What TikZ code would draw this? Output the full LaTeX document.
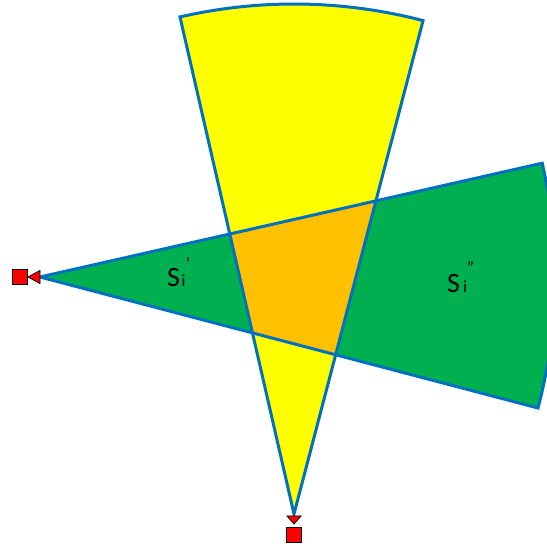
\documentclass[tikz,border=0pt]{standalone}
\usepackage{fontspec}
\setmainfont{Carlito}
\definecolor{edgeblue}{RGB}{0,112,192}
\definecolor{secyellow}{RGB}{255,255,0}
\definecolor{secgreen}{RGB}{0,176,80}
\definecolor{secorange}{RGB}{255,192,0}
\newcommand\lblS[2]{{\fontsize{28}{30}\selectfont S}\kern#2{\fontsize{17}{18}\selectfont i}#1}
\begin{document}
\begin{tikzpicture}[x=1pt,y=1pt,
  edge/.style={draw=edgeblue,line width=3pt},
  marker/.style={draw=black,line width=0.8pt,fill=red},
  lbl/.style={anchor=base west,inner sep=0pt}]
\useasboundingbox (0,0) rectangle (547,547);
\clip (0,0) rectangle (547,547);
\def\yellowpath{(294,33) -- ++(102.92:510) arc[start angle=102.92,end angle=75.34,radius=510] -- cycle}
\def\greenpath{(40,270) -- ++(12.77:515) arc[start angle=12.77,end angle=-14.74,radius=515] -- cycle}
\fill[secyellow] \yellowpath;
\fill[secgreen] \greenpath;
\begin{scope}
  \clip \yellowpath;
  \fill[secorange] \greenpath;
\end{scope}
\path[edge] \yellowpath;
\path[edge] \greenpath;
% markers
\draw[marker] (28,270) -- (40,276.5) -- (40,263.5) -- cycle;
\draw[marker] (12,262.5) rectangle (27,277.5);
\draw[marker] (294,23) -- (287,31) -- (301,31) -- cycle;
\draw[marker] (286.5,4.5) rectangle (301.5,19.5);
% labels
\node[lbl] (s1) at (167,260) {\lblS{\kern0.5pt\raisebox{17pt}{\fontsize{17}{18}\selectfont ’}}{1.5pt}};
\node[lbl] (s2) at (447,254) {\lblS{\kern0pt\raisebox{19pt}{\fontsize{17}{18}\selectfont ”}}{3pt}};
\end{tikzpicture}
\end{document}
